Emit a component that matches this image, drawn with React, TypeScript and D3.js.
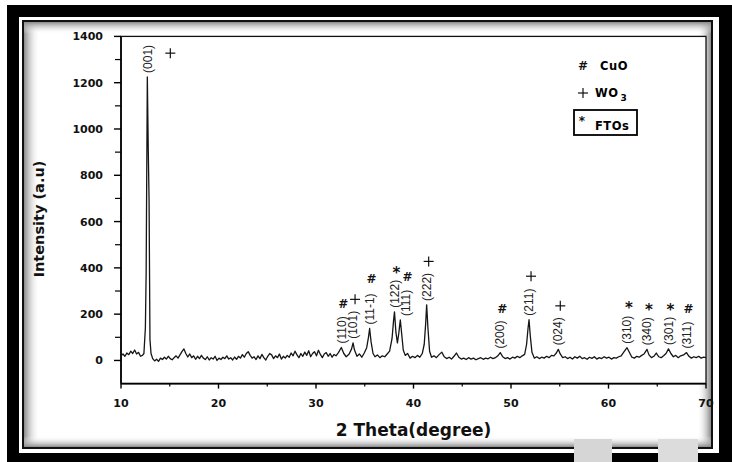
import React from 'react';
import * as d3 from 'd3';

const W = 732;
const H = 462;

// [2 theta (degree), intensity (a.u)]
const spectrum: [number, number][] = [
  [10.0, 20], [10.2, 28], [10.4, 18], [10.6, 32], [10.8, 25], [11.0, 40], [11.2, 30], [11.4, 45],
  [11.6, 28], [11.8, 35], [12.0, 18], [12.2, 22], [12.35, 30], [12.5, 140], [12.58, 380], [12.7, 1225],
  [12.8, 900], [12.88, 690], [12.97, 90], [13.08, 30], [13.25, 8], [13.45, -2], [13.65, 5], [13.85, -4],
  [14.05, 10], [14.25, 4], [14.45, 14], [14.65, 6], [14.85, 18], [15.05, 8], [15.25, 3], [15.45, 12],
  [15.65, 20], [15.85, 10], [16.05, 24], [16.25, 38], [16.45, 50], [16.65, 30], [16.85, 15], [17.05, 28],
  [17.25, 12], [17.45, 20], [17.65, 5], [17.85, 18], [18.05, 8], [18.25, 22], [18.45, 10], [18.65, 4],
  [18.85, 16], [19.05, 2], [19.25, 12], [19.45, 6], [19.65, 18], [19.85, 0], [20.05, 10], [20.25, 4],
  [20.45, 14], [20.65, 8], [20.85, 20], [21.05, 6], [21.25, 12], [21.45, 2], [21.65, 15], [21.85, 5],
  [22.05, 18], [22.25, 10], [22.45, 25], [22.65, 14], [22.85, 30], [23.05, 38], [23.25, 22], [23.45, 10],
  [23.65, 16], [23.85, 4], [24.05, 20], [24.25, 8], [24.45, 26], [24.65, 12], [24.85, 2], [25.05, 18],
  [25.25, 30], [25.45, 24], [25.65, 8], [25.85, 20], [26.05, 12], [26.25, 28], [26.45, 6], [26.65, 18],
  [26.85, 10], [27.05, 22], [27.25, 14], [27.45, 32], [27.65, 20], [27.85, 40], [28.05, 24], [28.25, 12],
  [28.45, 30], [28.65, 18], [28.85, 36], [29.05, 22], [29.25, 42], [29.45, 16], [29.65, 30], [29.85, 38],
  [30.05, 20], [30.25, 44], [30.45, 26], [30.65, 12], [30.85, 28], [31.05, 34], [31.25, 18], [31.45, 30],
  [31.65, 14], [31.85, 26], [32.05, 20], [32.3, 34], [32.6, 56], [32.85, 30], [33.1, 16], [33.4, 28],
  [33.65, 50], [33.8, 76], [33.95, 45], [34.2, 18], [34.45, 28], [34.7, 14], [34.95, 32], [35.2, 55],
  [35.38, 100], [35.5, 138], [35.65, 80], [35.85, 30], [36.05, 16], [36.3, 24], [36.55, 12], [36.8, 20],
  [37.05, 16], [37.3, 28], [37.55, 40], [37.8, 95], [37.95, 170], [38.05, 210], [38.2, 120], [38.35, 76],
  [38.5, 120], [38.65, 175], [38.8, 110], [38.95, 45], [39.15, 22], [39.4, 30], [39.65, 10], [39.9, 18],
  [40.15, 12], [40.4, 22], [40.65, 14], [40.9, 30], [41.1, 70], [41.25, 160], [41.35, 240], [41.48, 140],
  [41.65, 40], [41.85, 14], [42.1, 20], [42.35, 12], [42.6, 24], [42.9, 36], [43.15, 16], [43.4, 8],
  [43.65, 14], [43.9, 6], [44.15, 18], [44.4, 32], [44.65, 14], [44.9, 6], [45.15, 10], [45.4, 4],
  [45.65, 12], [45.9, 6], [46.15, 10], [46.4, 3], [46.65, 8], [46.9, 12], [47.15, 5], [47.4, 10],
  [47.65, 7], [47.9, 14], [48.15, 8], [48.4, 12], [48.65, 20], [48.9, 34], [49.15, 16], [49.4, 8],
  [49.65, 12], [49.9, 6], [50.15, 14], [50.4, 10], [50.65, 18], [50.9, 12], [51.15, 20], [51.4, 26],
  [51.6, 70], [51.75, 140], [51.85, 176], [51.97, 110], [52.15, 35], [52.4, 10], [52.65, 16], [52.9, 8],
  [53.15, 14], [53.4, 10], [53.65, 18], [53.9, 12], [54.15, 22], [54.4, 20], [54.65, 32], [54.85, 48],
  [55.05, 28], [55.3, 12], [55.55, 16], [55.8, 8], [56.05, 14], [56.3, 6], [56.55, 16], [56.8, 10],
  [57.05, 18], [57.3, 8], [57.55, 12], [57.8, 5], [58.05, 14], [58.3, 9], [58.55, 16], [58.8, 6],
  [59.05, 12], [59.3, 8], [59.55, 16], [59.8, 10], [60.05, 14], [60.3, 6], [60.55, 12], [60.8, 10],
  [61.05, 16], [61.3, 20], [61.6, 38], [61.9, 55], [62.15, 34], [62.4, 14], [62.65, 10], [62.9, 18],
  [63.15, 14], [63.4, 22], [63.65, 28], [63.95, 48], [64.15, 24], [64.4, 12], [64.65, 18], [64.9, 32],
  [65.15, 16], [65.4, 12], [65.65, 20], [65.9, 30], [66.15, 50], [66.4, 30], [66.65, 16], [66.9, 22],
  [67.15, 12], [67.4, 20], [67.7, 24], [68.0, 34], [68.25, 18], [68.5, 10], [68.75, 16], [69.0, 12],
  [69.25, 18], [69.5, 10], [69.75, 14], [70.0, 12],
];

// indexed reflections
const peakPos = [12.7, 32.6, 33.8, 35.5, 38.05, 38.65, 41.35, 48.9, 51.85, 54.85, 61.9, 63.95, 66.15, 68.0];
const peakHkl = ['(001)', '(110)', '(101)', '(11-1)', '(122)', '(111)', '(222)', '(200)', '(211)', '(024)', '(310)', '(340)', '(301)', '(311)'];
const peakPhase = ['+', '#', '+', '#', '*', '#', '+', '#', '+', '+', '*', '*', '*', '#'];

const xTicks = [10, 20, 30, 40, 50, 60, 70];
const xMinor = [15, 25, 35, 45, 55, 65];
const yTicks = [0, 200, 400, 600, 800, 1000, 1200, 1400];
const yMinor = [100, 300, 500, 700, 900, 1100, 1300];

const legendSymbols = ['#', '+', '*'];
const legendNames = ['CuO', 'WO', 'FTOs'];

const bold = 'DejaVu Sans, sans-serif';

// phase marker: '+' is drawn as two strokes, the others as bold glyphs
function Marker({ s, cx, cy, size }: { s: string; cx: number; cy: number; size: number }) {
  if (s === '+') {
    const h = size / 2;
    return (
      <g stroke="#111" strokeWidth={1.2}>
        <line x1={cx - h} x2={cx + h} y1={cy} y2={cy} />
        <line x1={cx} x2={cx} y1={cy - h} y2={cy + h} />
      </g>
    );
  }
  const star = s === '*';
  return (
    <text x={cx} y={cy + (star ? 4 : 0)} dy="0.35em" textAnchor="middle" fontFamily={bold} fontWeight="bold"
      fontSize={star ? size * 1.5 : size * 1.2} fill="#111">{s}</text>
  );
}

export default function App() {
  const x = d3.scaleLinear().domain([10, 70]).range([121, 706]);
  const y = d3.scaleLinear().domain([-100, 1400]).range([383.6, 36.4]);
  const line = d3.line<[number, number]>().x(d => x(d[0])).y(d => y(d[1]));

  // place labels just above each peak, nudging crowded ones apart
  let prevX = -100;
  const labels = peakPos.map((p, i) => {
    const top = d3.max(spectrum.filter(d => Math.abs(d[0] - p) < 0.15), d => d[1]) || 0;
    let px = x(p);
    if (px - prevX < 9) px = prevX + 11;
    prevX = px;
    const bottom = y(top) - 4;
    const len = peakHkl[i].length * 6.3;
    return { px, bottom, len, text: peakHkl[i], sym: peakPhase[i] };
  });

  const [x0, x1] = x.range();
  const [yb, yt] = y.range();

  return (
    <svg width={W} height={H} style={{ position: 'absolute', left: 0, top: 0, background: '#fff' }}>
      <defs>
        <linearGradient id="shL" x1="0" x2="1" y1="0" y2="0">
          <stop offset="0" stopColor="#8a8a8a" />
          <stop offset="1" stopColor="#fff" stopOpacity="0" />
        </linearGradient>
        <linearGradient id="shR" x1="1" x2="0" y1="0" y2="0">
          <stop offset="0" stopColor="#8a8a8a" />
          <stop offset="1" stopColor="#fff" stopOpacity="0" />
        </linearGradient>
        <linearGradient id="shT" x1="0" x2="0" y1="0" y2="1">
          <stop offset="0" stopColor="#8a8a8a" />
          <stop offset="1" stopColor="#fff" stopOpacity="0" />
        </linearGradient>
        <linearGradient id="shB" x1="0" x2="0" y1="1" y2="0">
          <stop offset="0" stopColor="#8a8a8a" />
          <stop offset="1" stopColor="#fff" stopOpacity="0" />
        </linearGradient>
      </defs>

      {/* photo frame */}
      <rect x={7} y={5} width={725} height={457} fill="#000" />
      <rect x={19} y={17} width={700} height={436} fill="#fff" />
      <rect x={23} y={21} width={689} height={427} fill="none" stroke="#111" strokeWidth={2} />
      <rect x={24} y={22} width={16} height={425} fill="url(#shL)" />
      <rect x={697} y={22} width={14} height={425} fill="url(#shR)" />
      <rect x={24} y={22} width={687} height={12} fill="url(#shT)" />
      <rect x={24} y={436} width={687} height={11} fill="url(#shB)" />
      <rect x={574} y={439} width={38} height={23} fill="#d6d6d6" />
      <rect x={658} y={439} width={40} height={23} fill="#dcdcdc" />

      {/* plot box */}
      <rect x={x0} y={yt} width={x1 - x0} height={yb - yt} fill="#fff" stroke="#111" strokeWidth={1.3} />
      <line x1={x0} x2={x0} y1={yt} y2={yb} stroke="#000" strokeWidth={1.6} />
      <line x1={x0} x2={x1} y1={yb} y2={yb} stroke="#000" strokeWidth={1.6} />

      {/* y axis */}
      {yTicks.map(t => (
        <g key={'y' + t}>
          <line x1={x0 - 7} x2={x0} y1={y(t)} y2={y(t)} stroke="#000" strokeWidth={1.4} />
          <text x={x0 - 18} y={y(t)} dy="0.36em" textAnchor="end" fontFamily={bold} fontWeight="bold" fontSize={11} fill="#111">{t}</text>
        </g>
      ))}
      {yMinor.map(t => (
        <line key={'ym' + t} x1={x0 - 6} x2={x0} y1={y(t)} y2={y(t)} stroke="#000" strokeWidth={1.2} />
      ))}
      <text transform={`translate(44,${(yt + yb) / 2 + 9}) rotate(-90)`} textAnchor="middle" fontFamily={bold} fontWeight="bold" fontSize={14.5} fill="#111">Intensity (a.u)</text>

      {/* x axis */}
      {xTicks.map(t => (
        <g key={'x' + t}>
          <line x1={x(t)} x2={x(t)} y1={yb} y2={yb + 5} stroke="#000" strokeWidth={1.4} />
          <text x={x(t)} y={407} textAnchor="middle" fontFamily={bold} fontWeight="bold" fontSize={11} fill="#111">{t}</text>
        </g>
      ))}
      {xMinor.map(t => (
        <line key={'xm' + t} x1={x(t)} x2={x(t)} y1={yb} y2={yb + 3} stroke="#000" strokeWidth={1.2} />
      ))}
      <text x={(x0 + x1) / 2} y={436} textAnchor="middle" fontFamily={bold} fontWeight="bold" fontSize={17} fill="#111">2 Theta(degree)</text>

      {/* pattern */}
      <path d={line(spectrum) || ''} fill="none" stroke="#151515" strokeWidth={1.3} strokeLinejoin="round" />

      {/* hkl labels */}
      {labels.map(l => {
        const topY = l.bottom - l.len;
        const side = topY < 60;
        const sx = side ? l.px + 23 : l.px + 2;
        const sy = side ? l.bottom - l.len / 2 - 4 : topY - 8;
        return (
          <g key={l.text}>
            <text transform={`translate(${l.px},${l.bottom}) rotate(-90)`} dy="0.35em" fontFamily="Liberation Sans, Arial, sans-serif" fontSize={12} fill="#222">{l.text}</text>
            <Marker s={l.sym} cx={sx} cy={sy} size={10} />
          </g>
        );
      })}

      {/* legend */}
      {legendSymbols.map((s, i) => {
        const ly = 66 + i * 27;
        return (
          <g key={'lg' + i}>
            <Marker s={s} cx={i === 2 ? 582 : 583} cy={i === 2 ? 117 : ly} size={i === 2 ? 8 : 10} />
            <text x={i === 0 ? 600 : 595} y={ly + (i === 2 ? 6 : 0)} dy="0.36em" fontFamily={bold} fontWeight="bold" fontSize={11.5} fill="#000" letterSpacing={0.5}>
              {legendNames[i]}
              {i === 1 ? <tspan fontSize={9} dy={4} dx={2}>3</tspan> : null}
            </text>
          </g>
        );
      })}
      <rect x={574} y={110} width={63} height={25} fill="none" stroke="#000" strokeWidth={1.8} />
    </svg>
  );
}
